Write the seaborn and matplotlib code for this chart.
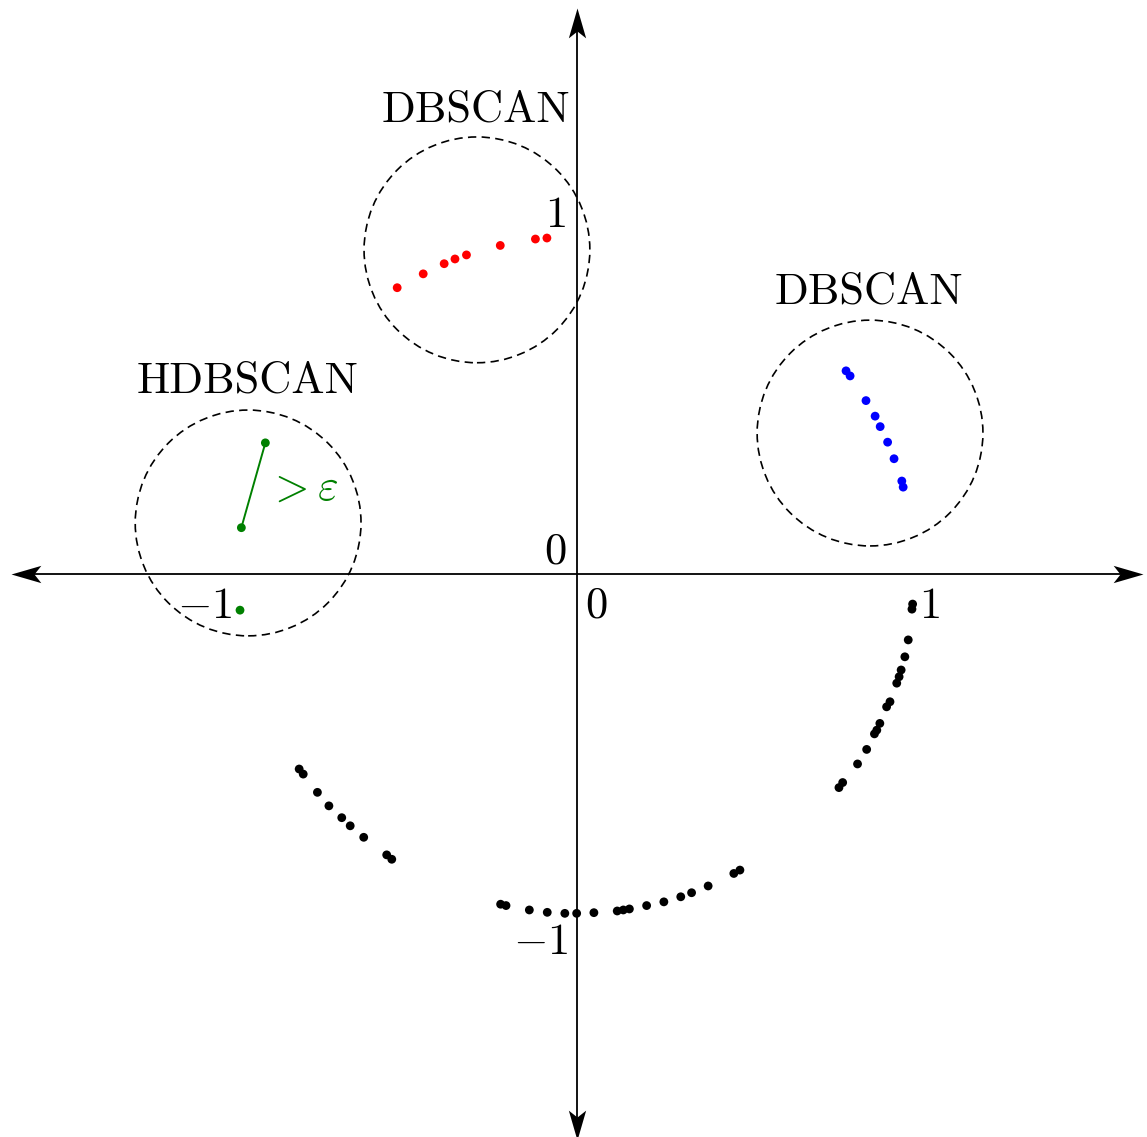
import numpy as np
import pandas as pd
import matplotlib
matplotlib.use("Agg")
import matplotlib.pyplot as plt
import seaborn as sns
from matplotlib.path import Path
from matplotlib.markers import MarkerStyle
from matplotlib.transforms import Affine2D
from matplotlib.patches import Circle

# ---- data -------------------------------------------------------------
# noise points lying on the lower part of the unit circle
noise_x = [0.993, 0.991, 0.980, 0.970, 0.959, 0.953, 0.946, 0.926, 0.916,
           0.896, 0.887, 0.880, 0.857, 0.830, 0.786, 0.775,
           -0.226, -0.210, -0.141, -0.088, -0.036, -0.001, 0.050, 0.119,
           0.137, 0.155, 0.206, 0.257, 0.307, 0.339, 0.388, 0.464, 0.482,
           -0.822, -0.810, -0.768, -0.734, -0.696, -0.671, -0.631, -0.563,
           -0.548]
noise_y = [-0.089, -0.104, -0.195, -0.245, -0.284, -0.304, -0.323, -0.378,
           -0.393, -0.442, -0.462, -0.473, -0.519, -0.562, -0.617, -0.632,
           -0.977, -0.981, -0.994, -1.001, -1.004, -1.004, -1.002, -0.997,
           -0.994, -0.991, -0.981, -0.970, -0.955, -0.943, -0.923, -0.886,
           -0.876,
           -0.577, -0.592, -0.646, -0.686, -0.721, -0.745, -0.779, -0.831,
           -0.844]

# dense cluster near the top
red_x = [-0.532, -0.455, -0.393, -0.361, -0.327, -0.227, -0.123, -0.089]
red_y = [0.847, 0.888, 0.918, 0.932, 0.944, 0.972, 0.991, 0.994]

# dense cluster on the right
blue_x = [0.796, 0.808, 0.855, 0.882, 0.897, 0.919, 0.938, 0.961, 0.965]
blue_y = [0.601, 0.586, 0.513, 0.467, 0.436, 0.390, 0.341, 0.275, 0.257]

# sparse points on the left (first two are joined by a segment)
green_x = [-0.922, -0.993, -0.997]
green_y = [0.388, 0.137, -0.107]

# neighbourhood circles: centres, radius and captions
circle_x = [-0.296, 0.867, -0.973]
circle_y = [0.959, 0.417, 0.151]
circle_r = 0.334
circle_labels = ["DBSCAN", "DBSCAN", "HDBSCAN"]
label_x = [-0.299, 0.864, -0.976]
label_y = [1.340, 0.799, 0.536]

# axis tick labels
xtick_vals = ["$0$", "$1$", "$-1$"]
xtick_pos = [0.056, 1.044, -1.101]
ytick_vals = ["$0$", "$1$", "$-1$"]
ytick_pos_x = [-0.065, -0.065, -0.109]
ytick_pos_y = [0.030, 1.027, -1.124]

# ---- style ------------------------------------------------------------
sns.set_theme(style="white")
plt.rcParams["font.family"] = ["cmr10", "DejaVu Serif"]
plt.rcParams["mathtext.fontset"] = "cm"
plt.rcParams["axes.unicode_minus"] = False
plt.rcParams["text.color"] = "black"

fig = plt.figure(figsize=(11.47, 11.37), dpi=100)
ax = fig.add_axes([0, 0, 1, 1])
ax.set_xlim(-1.7071, 1.6864)
ax.set_ylim(-1.6657, 1.6982)
ax.axis("off")

FS = 32

# ---- coordinate axes with stealth arrow heads -------------------------
L = 1.675
ax.plot([-L + 0.04, L - 0.04], [0, 0], color="black", lw=1.3, zorder=2)
ax.plot([0, 0], [-L + 0.04, L - 0.04], color="black", lw=1.3, zorder=2)
head = Path([(0, 0), (-1, 0.29), (-0.77, 0), (-1, -0.29), (0, 0)],
            [Path.MOVETO, Path.LINETO, Path.LINETO, Path.LINETO, Path.CLOSEPOLY])
for (hx, hy, ang) in [(L, 0, 0), (-L, 0, 180), (0, L, 90), (0, -L, 270)]:
    ms = MarkerStyle(head, transform=Affine2D().rotate_deg(ang))
    ax.plot([hx], [hy], marker=ms, markersize=43, color="black",
            markeredgewidth=0, linestyle="none", zorder=3)

# ---- points -------------------------------------------------------------
df = pd.concat([
    pd.DataFrame({"x": noise_x, "y": noise_y, "group": "noise"}),
    pd.DataFrame({"x": red_x, "y": red_y, "group": "top"}),
    pd.DataFrame({"x": blue_x, "y": blue_y, "group": "right"}),
    pd.DataFrame({"x": green_x, "y": green_y, "group": "left"}),
], ignore_index=True)
palette = {"noise": "black", "top": "#ff0000", "right": "#0000ff", "left": "#008000"}
sns.scatterplot(data=df, x="x", y="y", hue="group", palette=palette,
                s=40, linewidth=0, legend=False, ax=ax, zorder=4)

# segment between the two upper sparse points
sns.lineplot(x=green_x[:2], y=green_y[:2], sort=False, color="#008000",
             lw=1.4, ax=ax, zorder=3)
ax.text(-0.811, 0.219, r"$>\varepsilon$", color="#008000", fontsize=FS,
        ha="center", va="baseline")

# ---- neighbourhood circles and captions --------------------------------
for cx, cy, lab, lx, ly in zip(circle_x, circle_y, circle_labels, label_x, label_y):
    ax.add_patch(Circle((cx, cy), circle_r, fill=False, edgecolor="black",
                        lw=1.2, linestyle=(0, (5, 3.2)), zorder=2))
    ax.text(lx, ly, lab, fontsize=FS, color="black", ha="center", va="baseline")

# ---- tick labels --------------------------------------------------------
for t, px in zip(xtick_vals, xtick_pos):
    ax.text(px, -0.130, t, fontsize=FS, color="black", ha="center", va="baseline")
for t, px, py in zip(ytick_vals, ytick_pos_x, ytick_pos_y):
    ax.text(px, py, t, fontsize=FS, color="black", ha="center", va="baseline")

fig.savefig("out.png", dpi=100, facecolor="white")
